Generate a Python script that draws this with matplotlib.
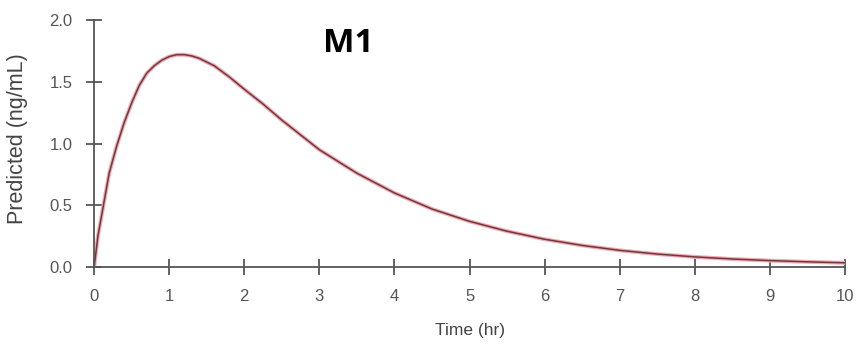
import matplotlib
matplotlib.use("Agg")
import matplotlib.pyplot as plt

time_hr = [0, 0.05, 0.1, 0.2, 0.3, 0.4, 0.5, 0.6, 0.7, 0.8, 0.9, 1.0, 1.1, 1.2, 1.3,
           1.4, 1.6, 1.8, 2.0, 2.25, 2.5, 2.75, 3.0, 3.5, 4.0, 4.5, 5.0, 5.5, 6.0,
           6.5, 7.0, 7.5, 8.0, 8.5, 9.0, 9.5, 10.0]
predicted = [0.0, 0.25, 0.42, 0.76, 0.98, 1.17, 1.33, 1.47, 1.57, 1.63, 1.675, 1.705, 1.72, 1.72, 1.71,
             1.69, 1.63, 1.54, 1.44, 1.32, 1.19, 1.07, 0.95, 0.76, 0.60, 0.47, 0.37, 0.29, 0.225,
             0.175, 0.135, 0.105, 0.082, 0.065, 0.052, 0.042, 0.034]
xticks = [0, 1, 2, 3, 4, 5, 6, 7, 8, 9, 10]
yticks = [0.0, 0.5, 1.0, 1.5, 2.0]

plt.rcParams['font.family'] = ['Liberation Sans', 'DejaVu Sans']

fig = plt.figure(figsize=(8.56, 3.47), dpi=100)
ax = fig.add_axes([0.110, 0.2305, 0.877, 0.7115])

ax.plot(time_hr, predicted, color='#f2a8b0', lw=2.8, solid_capstyle='round')
ax.plot(time_hr, predicted, color='#6e3a3e', lw=1.1)

ax.set_xlim(0, 10)
ax.set_ylim(0, 2.0)
ax.set_xticks(xticks)
ax.set_xticklabels([str(v) for v in xticks])
ax.set_yticks(yticks)
ax.set_yticklabels([f"{v:.1f}" for v in yticks])

for s in ['top', 'right']:
    ax.spines[s].set_visible(False)
for s in ['left', 'bottom']:
    ax.spines[s].set_color('#555555')
    ax.spines[s].set_linewidth(1.3)

ax.tick_params(axis='both', direction='inout', length=11, width=1.3, color='#555555',
               labelcolor='#555555', labelsize=12)
ax.tick_params(axis='x', pad=10)
ax.tick_params(axis='y', pad=10)

ax.set_xlabel('Time (hr)', color='#444444', fontsize=12.5, labelpad=14)
ax.set_ylabel('Predicted (ng/mL)', color='#444444', fontsize=15.5, labelpad=6)
ax.yaxis.set_label_coords(-0.088, 0.52)

fig.text(348 / 856, 1 - 43 / 347, 'M1', fontsize=24, fontweight='bold',
         family=['Open Sans', 'DejaVu Sans'], ha='center', va='center', color='black')

fig.savefig('out.png', dpi=100, facecolor='white')
